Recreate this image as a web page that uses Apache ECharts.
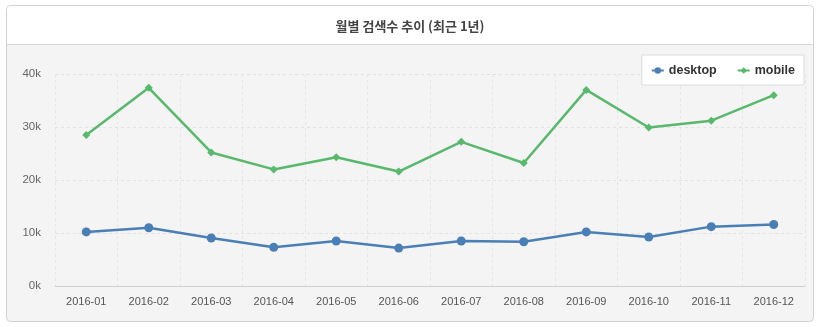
<!DOCTYPE html>
<html><head><meta charset="utf-8">
<script src="https://cdn.jsdelivr.net/npm/echarts@6/dist/echarts.min.js"></script>
<style>html,body{margin:0;padding:0;background:#fff}#c{width:820px;height:327px}</style>
</head><body><div id="c"></div>
<script>
const categories = ['2016-01','2016-02','2016-03','2016-04','2016-05','2016-06','2016-07','2016-08','2016-09','2016-10','2016-11','2016-12'];
const desktop = [10200, 11000, 9050, 7300, 8500, 7150, 8500, 8350, 10200, 9250, 11200, 11600];
const mobile = [28500, 37400, 25200, 22000, 24300, 21600, 27200, 23200, 37000, 29900, 31200, 36000];
const titleText = '월별 검색수 추이 (최근 1년)';
const chart = echarts.init(document.getElementById('c'), null, {renderer:'canvas'});
chart.setOption({
  animation:false,
  graphic:[
    {type:'rect', z:-10, shape:{x:6.5,y:5.5,width:807,height:316,r:4}, style:{fill:'#f4f4f4',stroke:'#d2d2d2',lineWidth:1}},
    {type:'rect', z:-9, shape:{x:7,y:6,width:806,height:38,r:[4,4,0,0]}, style:{fill:'#ffffff'}},
    {type:'line', z:-8, shape:{x1:7,y1:44.5,x2:813,y2:44.5}, style:{stroke:'#d8d8d8',lineWidth:1}}
  ],
  title:{text:titleText, left:'center', top:15, textStyle:{fontFamily:'Noto Sans CJK KR', fontSize:13, fontWeight:'bold', color:'#444'}},
  legend:{right:16, top:55, backgroundColor:'#fff', borderColor:'#dcdcdc', borderWidth:1, padding:[9,9,8,9], itemGap:20, itemWidth:12, itemHeight:8,
    textStyle:{fontFamily:'Liberation Sans', fontWeight:'bold', fontSize:12.5, color:'#333'}, data:['desktop','mobile']},
  grid:{left:55, right:15, top:74, bottom:41},
  xAxis:{type:'category', data:categories, boundaryGap:true,
    axisLine:{lineStyle:{color:'#cfcfcf'}},
    axisTick:{length:8, lineStyle:{color:'#cfcfcf'}},
    axisLabel:{color:'#555', fontSize:11, fontFamily:'Liberation Sans', margin:10},
    splitLine:{show:true, lineStyle:{color:'#e6e6e6', type:[3,3]}}},
  yAxis:{type:'value', min:0, max:40000, interval:10000,
    axisLine:{show:false}, axisTick:{show:false},
    axisLabel:{color:'#666', fontSize:11.5, fontFamily:'Liberation Sans', margin:14, formatter:v=>(v/1000)+'k'},
    splitLine:{lineStyle:{color:'#e2e2e2', type:[3,3]}}},
  series:[
    {name:'desktop', type:'line', data:desktop, symbol:'circle', symbolSize:9, color:'#4a7fb6', lineStyle:{width:2.5}},
    {name:'mobile', type:'line', data:mobile, symbol:'diamond', symbolSize:8, color:'#58b86c', lineStyle:{width:2.5}}
  ]
});
</script></body></html>
